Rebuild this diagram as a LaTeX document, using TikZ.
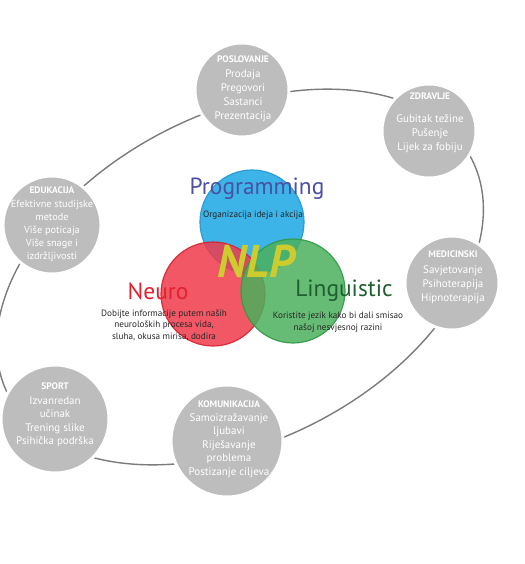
\documentclass[tikz,border=0pt]{standalone}
\usepackage{fontspec}
\setmainfont{PT Sans}
\usepackage{tikz}
\usetikzlibrary {positioning}

\definecolor{ringgray}{HTML}{7B7B7B}
\definecolor{topicgray}{HTML}{BDBDBD}
\definecolor{progblue}{HTML}{3CB4E8}
\definecolor{progedge}{HTML}{2E9AD6}
\definecolor{neurored}{HTML}{EE3A4A}
\definecolor{neuroedge}{HTML}{D8202F}
\definecolor{linggreen}{HTML}{4BB05C}
\definecolor{lingedge}{HTML}{2E9B45}
\definecolor{progtext}{HTML}{4A50A2}
\definecolor{neurotext}{HTML}{E3202E}
\definecolor{lingtext}{HTML}{1F5E2E}
\definecolor{nlpyellow}{HTML}{CDCC2E}

\begin{document}
\begin{tikzpicture}[x=1bp,y=-1bp,
topic/.style={circle,fill=topicgray,draw=white,line width=3bp,inner sep=0pt},
topictext/.style={align=center,text=white,font=\fontsize{11}{14}\selectfont},
venn/.style={circle,minimum size=104bp,inner sep=0pt,line width=1.2bp},
title/.style={font=\fontsize{23.5}{26}\selectfont},
note/.style={align=center,text=black!85,font=\fontsize{9.2}{11.5}\selectfont}]
\useasboundingbox (0,0) rectangle (525,564);

% ring
\draw[ringgray,line width=1.4bp,rotate around={27:(240,277)}] (240,277) ellipse [x radius=260,y radius=164];

% areas
\node[topic,minimum size=94bp]  (posl)  at (242,90)  {};
\node[topic,minimum size=94bp]  (zdrav) at (429,131) {};
\node[topic,minimum size=98bp]  (edu)   at (52,225)  {};
\node[topic,minimum size=94bp]  (med)   at (452,283) {};
\node[topic,minimum size=108bp] (sport) at (55,419)  {};
\node[topic,minimum size=112bp] (komun) at (227,441) {};

\node[topictext] (posl-t)  at (243,89)  {{\bfseries\fontsize{9.5}{14}\selectfont POSLOVANJE}\\[1pt]Prodaja\\Pregovori\\Sastanci\\Prezentacija};
\node[topictext] (zdrav-t) at (430,123) {{\bfseries\fontsize{9.5}{14}\selectfont ZDRAVLJE}\\[9pt]Gubitak težine\\Pušenje\\Lijek za fobiju};
\node[topictext,font=\fontsize{10.3}{13}\selectfont] (edu-t) at (52,224) {{\bfseries\fontsize{9.5}{13}\selectfont EDUKACIJA}\\[1pt]Efektivne studijske\\metode\\Više poticaja\\Više snage i\\izdržljivosti};
\node[topictext] (med-t)   at (453,277) {{\bfseries\fontsize{9.5}{14}\selectfont MEDICINSKI}\\[2pt]Savjetovanje\\Psihoterapija\\Hipnoterapija};
\node[topictext,font=\fontsize{11}{13.5}\selectfont] (sport-t) at (55,415) {{\bfseries\fontsize{9.5}{13.5}\selectfont SPORT}\\[1pt]Izvanredan\\učinak\\Trening slike\\Psihička podrška};
\node[topictext,font=\fontsize{11}{13.5}\selectfont] (komun-t) at (229,439) {{\bfseries\fontsize{9.5}{13.5}\selectfont KOMUNIKACIJA}\\[1pt]Samoizražavanje\\ljubavi\\Riješavanje\\problema\\Postizanje ciljeva};

% venn
\node[venn,fill=progblue,draw=progedge] (prog) at (252,222) {};
\node[venn,fill=neurored,draw=neuroedge,fill opacity=0.85,draw opacity=0.9] (neuro) at (213,294) {};
\node[venn,fill=linggreen,draw=lingedge,fill opacity=0.85,draw opacity=0.9] (ling) at (293,291) {};

\node[title,text=progtext] (prog-t) at (257,189) {Programming};
\node[note] (prog-n) at (253,215) {Organizacija ideja i akcija};
\node[text=nlpyellow,font=\fontsize{46}{50}\selectfont\bfseries\itshape] (nlp) at (256,261) {NLP};
\node[title,text=neurotext] (neuro-t) at (158,291) {Neuro};
\node[note] (neuro-n) at (164,325) {Dobijte informacije putem naših\\neuroloških procesa vida,\\sluha, okusa mirisa, dodira};
\node[title,text=lingtext] (ling-t) at (344,291) {Linguistic};
\node[note] (ling-n) at (338,322) {Koristite jezik kako bi dali smisao\\našoj nesvjesnoj razini};

\end{tikzpicture}
\end{document}
